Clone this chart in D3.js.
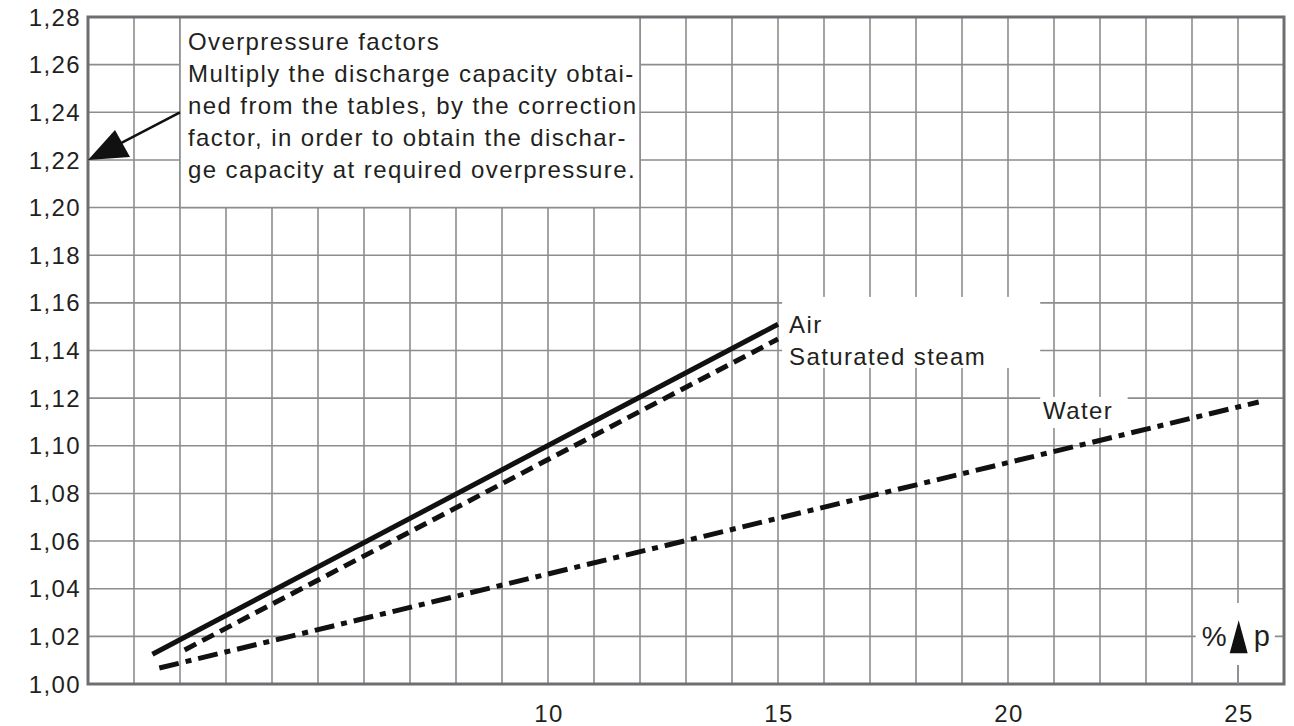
<!DOCTYPE html>
<html>
<head>
<meta charset="utf-8">
<script src="https://cdn.jsdelivr.net/npm/d3@7"></script>
<style>
  body { margin: 0; background: #fff; }
  text { font-family: "Liberation Sans", Arial, Helvetica, sans-serif; fill: #231f20; letter-spacing: 1.4px; }
</style>
</head>
<body>
<div id="chart"></div>
<script>
// data
const factorTicks = [1.00, 1.02, 1.04, 1.06, 1.08, 1.10, 1.12, 1.14, 1.16, 1.18, 1.20, 1.22, 1.24, 1.26, 1.28];
const pctTicks = [10, 15, 20, 25];
const pctGrid = d3.range(0, 27);

const airX = [1.4, 15.0];
const airY = [1.0125, 1.151];
const steamX = [2.1, 15.0];
const steamY = [1.0143, 1.1448];
const waterX = [1.55, 25.45];
const waterY = [1.0067, 1.1184];

const noteLines = [
  "Overpressure factors",
  "Multiply the discharge capacity obtai-",
  "ned from the tables, by the correction",
  "factor, in order to obtain the dischar-",
  "ge capacity at required overpressure."
];
const seriesLabels = ["Air", "Saturated steam", "Water"];

const W = 1294, H = 726;
const margin = { top: 17, right: 10, bottom: 42, left: 88 };
const width = 26 * 46;
const height = H - margin.top - margin.bottom;

const svg = d3.select("#chart").append("svg")
  .attr("width", W).attr("height", H);

const x = d3.scaleLinear().domain([0, 26]).range([margin.left, margin.left + width]);
const y = d3.scaleLinear().domain([1.00, 1.28]).range([margin.top + height, margin.top]);

const gridColor = "#8d8d8f";

// grid
svg.append("g").selectAll("line.v")
  .data(pctGrid).join("line")
  .attr("x1", d => x(d)).attr("x2", d => x(d))
  .attr("y1", y(1.28)).attr("y2", y(1.00))
  .attr("stroke", gridColor).attr("stroke-width", 1.6);

svg.append("g").selectAll("line.h")
  .data(factorTicks).join("line")
  .attr("x1", x(0)).attr("x2", x(26))
  .attr("y1", d => y(d)).attr("y2", d => y(d))
  .attr("stroke", gridColor).attr("stroke-width", 1.6);

// white boxes that cover the grid behind labels
const cover = (x0, x1, y0, y1) => svg.append("rect")
  .attr("x", x(x0)).attr("y", y(y0))
  .attr("width", x(x1) - x(x0)).attr("height", y(y1) - y(y0))
  .attr("fill", "#fff");

cover(2, 12, 1.28, 1.20).attr("stroke", gridColor).attr("stroke-width", 1.6);
cover(15.09, 20.7, 1.1625, 1.1327);
cover(20.7, 22.6, 1.1205, 1.1075);
cover(24.08, 25.8, 1.034, 1.008);

// frame
svg.append("rect")
  .attr("x", x(0)).attr("y", y(1.28))
  .attr("width", width).attr("height", height)
  .attr("fill", "none").attr("stroke", "#6d6e71").attr("stroke-width", 3);

// small tick at 25 below the %p label
svg.append("line")
  .attr("x1", x(25)).attr("x2", x(25))
  .attr("y1", y(1.008)).attr("y2", y(1.00))
  .attr("stroke", gridColor).attr("stroke-width", 1.6);

// y labels
svg.append("g").selectAll("text")
  .data(factorTicks).join("text")
  .attr("x", x(0) - 7).attr("y", d => y(d))
  .attr("dy", "0.36em")
  .attr("text-anchor", "end")
  .style("font-size", "24px")
  .text(d => d.toFixed(2).replace(".", ","));

// x labels
svg.append("g").selectAll("text")
  .data(pctTicks).join("text")
  .attr("x", d => x(d) + 1).attr("y", y(1.00) + 38)
  .attr("text-anchor", "middle")
  .style("font-size", "24px")
  .text(d => d);

// series lines
const line = d3.line().x(d => x(d[0])).y(d => y(d[1]));
const series = [
  { xs: airX, ys: airY, dash: null },
  { xs: steamX, ys: steamY, dash: "13,7" },
  { xs: waterX, ys: waterY, dash: "20,7,6,7" }
];
series.forEach(s => {
  svg.append("path")
    .datum(d3.zip(s.xs, s.ys))
    .attr("d", line)
    .attr("fill", "none")
    .attr("stroke", "#111")
    .attr("stroke-width", 5)
    .attr("stroke-dasharray", s.dash);
});

// series labels
svg.append("text").attr("x", x(15) + 11).attr("y", y(1.1515) + 10)
  .style("font-size", "24px").text(seriesLabels[0]);
svg.append("text").attr("x", x(15) + 11).attr("y", y(1.1515) + 42)
  .style("font-size", "24px").text(seriesLabels[1]);
svg.append("text").attr("x", x(20.72) + 2).attr("y", y(1.1205) + 22)
  .style("font-size", "24px").text(seriesLabels[2]);

// note
svg.append("g").selectAll("text")
  .data(noteLines).join("text")
  .attr("x", x(2) + 8)
  .attr("y", (d, i) => 50 + i * 32)
  .style("font-size", "24px")
  .text(d => d);

// arrow pointing to the axis
const tipX = x(0), tipY = y(1.22);
svg.append("line")
  .attr("x1", x(2)).attr("y1", y(1.24))
  .attr("x2", tipX + 20).attr("y2", tipY - 10)
  .attr("stroke", "#111").attr("stroke-width", 2.5);
svg.append("path")
  .attr("d", `M${tipX},${tipY} L${tipX + 27},${tipY - 30} L${tipX + 42},${tipY - 3} Z`)
  .attr("fill", "#111");

// %p label
const pX = x(24.08);
svg.append("text").attr("x", pX + 6).attr("y", y(1.02) + 10)
  .style("font-size", "28px").style("letter-spacing", "0px").text("%");
svg.append("path")
  .attr("d", `M${pX + 34},${y(1.02) + 17} L${pX + 43},${y(1.02) - 16} L${pX + 52},${y(1.02) + 17} Z`)
  .attr("fill", "#111");
svg.append("text").attr("x", pX + 58).attr("y", y(1.02) + 10)
  .style("font-size", "29px").style("letter-spacing", "0px").text("p");
</script>
</body>
</html>
